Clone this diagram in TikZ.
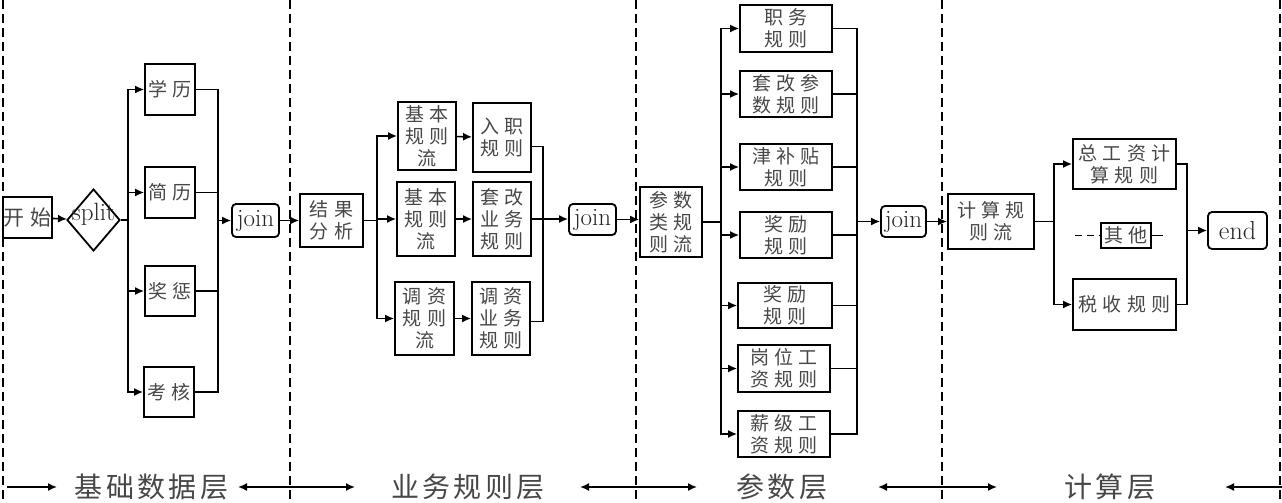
\documentclass[tikz,border=0pt]{standalone}
\usepackage{fontspec}
\usetikzlibrary{arrows.meta,shapes.geometric}
\newfontfamily\cjk[LetterSpace=28]{Noto Sans CJK SC}
\newfontfamily\cjkb[LetterSpace=12]{Noto Sans CJK SC}
\tikzset{
  bx/.style={draw, line width=1.8pt, inner sep=0pt, align=center,
    font=\cjk\fontsize{19}{22}\selectfont, text=black!72},
  rbx/.style={bx, rounded corners=4pt, font=\rmfamily\fontsize{25}{26}\selectfont, text=black!85},
  arr/.style={line width=1.6pt, -{Latex[length=9pt,width=8pt]}},
  ln/.style={line width=1.6pt},
  sepline/.style={line width=1.3pt, dash pattern=on 9pt off 5pt},
  layer/.style={font=\cjkb\fontsize{28}{30}\selectfont, text=black!72, inner sep=0pt},
}
\begin{document}
\begin{tikzpicture}[x=1pt,y=-1pt]
\useasboundingbox (0,0) rectangle (1282,503);
% separators
\foreach \xx in {3,290,636,942,1280} \draw[sepline] (\xx,0) -- (\xx,503);

% layer 1
\node[bx, minimum width=49pt, minimum height=41pt, font=\cjk\fontsize{21}{22}\selectfont] (start) at (27.5,217.5) {开始};
\node[draw, diamond, line width=1.8pt, inner sep=0pt, minimum width=53pt, minimum height=62pt,
  font=\rmfamily\fontsize{25}{26}\selectfont, text=black!85] (split) at (93.5,220) {\smash{\makebox[0pt]{split}}};
\node[bx, minimum width=50pt, minimum height=51pt] (xl) at (170,89.5) {学历};
\node[bx, minimum width=50pt, minimum height=51pt] (jl) at (170,192.5) {简历};
\node[bx, minimum width=50pt, minimum height=50pt] (jc) at (170,291) {奖惩};
\node[bx, minimum width=50pt, minimum height=50pt] (kh) at (169,392) {考核};
\node[rbx, minimum width=47pt, minimum height=33pt] (join1) at (255.5,220.5) {join};

\coordinate (s1) at (128,220);
\coordinate (jt1) at (218,220.5);
\draw[arr] (start) -- (split);
\draw[ln] (split.east) -- (s1);
\foreach \n in {xl,jl,jc,kh} {
  \draw[arr] (s1) |- (\n.west);
  \draw[ln] (\n.east) -| (jt1);
}
\draw[arr] (jt1) -- (join1.west);

% layer 2
\node[bx, minimum width=63pt, minimum height=53pt] (jg) at (331.5,220.5) {结果\\分析};
\node[bx, minimum width=58pt, minimum height=68pt] (b1) at (427,136) {基本\\规则\\流};
\node[bx, minimum width=58pt, minimum height=69pt] (r1) at (502,137.5) {入职\\规则};
\node[bx, minimum width=58pt, minimum height=74pt] (b2) at (426,219) {基本\\规则\\流};
\node[bx, minimum width=58pt, minimum height=74pt] (r2) at (502,219) {套改\\业务\\规则};
\node[bx, minimum width=59pt, minimum height=73pt] (b3) at (424.5,318.5) {调资\\规则\\流};
\node[bx, minimum width=58pt, minimum height=73pt] (r3) at (501,318.5) {调资\\业务\\规则};
\node[rbx, minimum width=47pt, minimum height=31pt] (join2) at (592.5,219.5) {join};

\coordinate (s2) at (377,220.5);
\coordinate (jt2) at (543,219.5);
\draw[arr] (join1) -- (jg);
\draw[ln] (jg.east) -- (s2);
\foreach \n in {b1,b2,b3} \draw[arr] (s2) |- (\n.west);
\draw[arr] (b1) -- (r1);
\draw[arr] (b2) -- (r2);
\draw[arr] (b3) -- (r3);
\draw[ln] ([yshift=-9pt]r1.east) -| (jt2);
\draw[ln] ([yshift=-3pt]r3.east) -| (jt2);
\draw[arr] (r2.east) -- (r2.east -| join2.west);

% layer 3
\node[bx, minimum width=62pt, minimum height=70pt] (p0) at (671,222) {参数\\类规\\则流};
\node[bx, minimum width=92pt, minimum height=47pt] (p1) at (786,28.5) {职务\\规则};
\node[bx, minimum width=92pt, minimum height=46pt] (p2) at (786,94) {套改参\\数规则};
\node[bx, minimum width=92pt, minimum height=46pt] (p3) at (786,167) {津补贴\\规则};
\node[bx, minimum width=92pt, minimum height=46pt] (p4) at (786,235) {奖励\\规则};
\node[bx, minimum width=94pt, minimum height=45pt] (p5) at (785,305.5) {奖励\\规则};
\node[bx, minimum width=92pt, minimum height=47pt] (p6) at (784,368.5) {岗位工\\资规则};
\node[bx, minimum width=92pt, minimum height=46pt] (p7) at (784,434) {薪级工\\资规则};
\node[rbx, minimum width=45pt, minimum height=31pt] (join3) at (903.5,221.5) {join};

\coordinate (s3) at (721,222);
\coordinate (jt3) at (857,221.5);
\draw[arr] (join2) -- (p0.west |- join2.east);
\draw[ln] (p0.east) -- (s3);
\foreach \n in {p1,p2,p3,p4,p5,p6,p7} {
  \draw[arr] (s3) |- (\n.west);
  \draw[ln] (\n.east) -| (jt3);
}
\draw[arr] (jt3) -- (join3.west);

% layer 4
\node[bx, minimum width=86pt, minimum height=55pt] (c0) at (991,221.5) {计算规\\则流};
\node[bx, minimum width=103pt, minimum height=50pt] (c1) at (1124.5,164) {总工资计\\算规则};
\node[bx, minimum width=50pt, minimum height=25pt] (c2) at (1126,235.5) {其他};
\node[bx, minimum width=103pt, minimum height=51pt] (c3) at (1124.5,304.5) {税收规则};
\node[rbx, minimum width=59pt, minimum height=37pt, font=\rmfamily\fontsize{26}{28}\selectfont] (end) at (1237.5,230.5) {end};

\coordinate (s4) at (1054,221.5);
\coordinate (jt4) at (1187,230.5);
\coordinate (od1) at (1075,235.5);
\coordinate (od2) at (1163,235.5);
\draw[arr] (join3) -- (c0.west |- join3.east);
\draw[ln] (c0.east) -- (s4);
\draw[arr] (s4) |- (c1.west);
\draw[arr] (s4) |- (c3.west);
\draw[ln] (c1.east) -| (jt4);
\draw[ln] (c3.east) -| (jt4);
\draw[arr] (jt4) -- (end.west);
\draw[ln, dash pattern=on 7pt off 5pt] (od1) -- (c2.west);
\draw[ln] (c2.east) -- (od2);

% bottom layer labels
\node[layer] (L1) at (151.5,487) {基础数据层};
\node[layer] (L2) at (468,487) {业务规则层};
\node[layer] (L3) at (782,487) {参数层};
\node[layer] (L4) at (1110,487) {计算层};
\coordinate (a0) at (7,487);
\coordinate (a1) at (57,487);
\coordinate (m1) at (290,487);
\coordinate (m1l) at (238,487);
\coordinate (m1r) at (355,487);
\coordinate (m2) at (636,487);
\coordinate (m2l) at (580,487);
\coordinate (m2r) at (697,487);
\coordinate (m3) at (942,487);
\coordinate (m3l) at (878,487);
\coordinate (m3r) at (997,487);
\coordinate (e0) at (1282,487);
\coordinate (e1) at (1225,487);
\draw[arr] (a0) -- (a1);
\draw[arr] (m1) -- (m1l);
\draw[arr] (m1) -- (m1r);
\draw[arr] (m2) -- (m2l);
\draw[arr] (m2) -- (m2r);
\draw[arr] (m3) -- (m3l);
\draw[arr] (m3) -- (m3r);
\draw[arr] (e0) -- (e1);
\end{tikzpicture}
\end{document}
